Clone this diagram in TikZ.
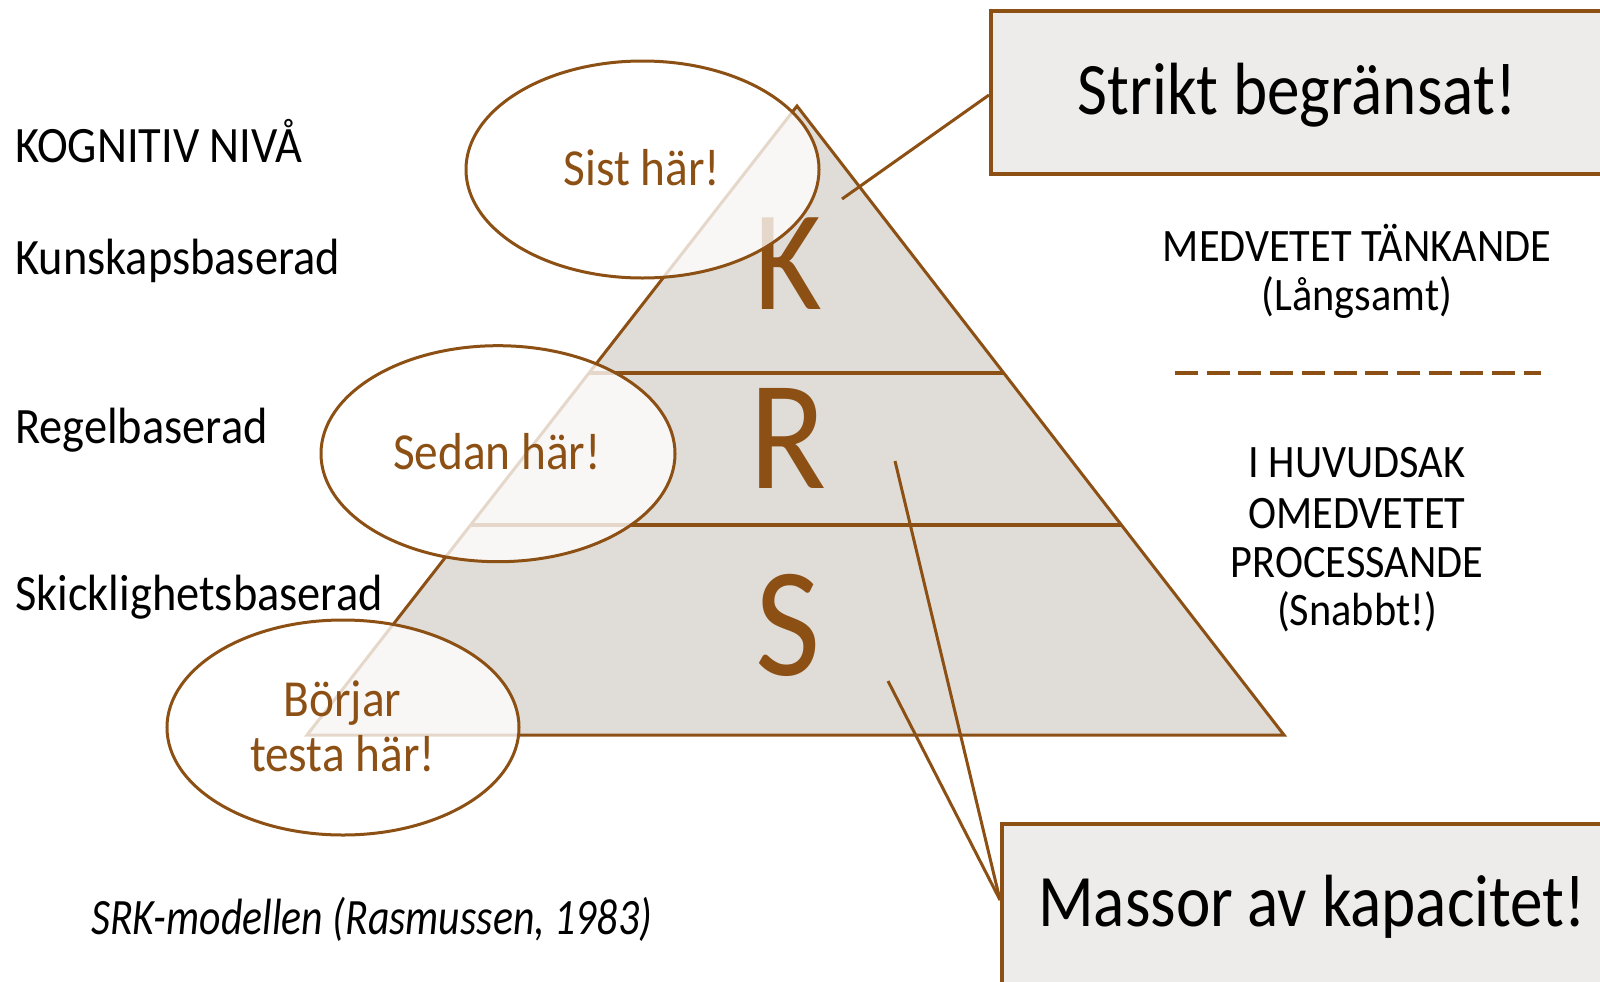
\documentclass[tikz,border=0pt]{standalone}
\usepackage{fontspec}
\setmainfont{Carlito}[FakeStretch=0.91]
\newfontfamily\boxfont{Carlito}[FakeStretch=0.88]
\newfontfamily\capfont{Carlito}[FakeStretch=0.82]
\usetikzlibrary{calc,shapes.geometric}
\definecolor{brn}{RGB}{140,80,20}
\definecolor{pyr}{RGB}{224,221,216}
\definecolor{boxfill}{RGB}{238,236,234}
\begin{document}
\begin{tikzpicture}[x=1bp,y=-1bp,
  lbl/.style={inner sep=0pt, anchor=base west, font=\fontsize{51bp}{60bp}\selectfont},
  rtxt/.style={inner sep=0pt, anchor=base, font=\fontsize{46.5bp}{50bp}\selectfont},
  etxt/.style={inner sep=0pt, anchor=base, text=brn, font=\fontsize{52bp}{60bp}\selectfont},
  bigletter/.style={inner sep=0pt, anchor=base, text=brn},
  bubble/.style={ellipse, draw=brn, line width=3bp, fill=white, fill opacity=0.78, inner sep=0pt},
  callout/.style={rectangle, draw=brn, line width=4bp, fill=boxfill, inner sep=0pt, anchor=north west},
  btxt/.style={inner sep=0pt, font=\boxfont\fontsize{74bp}{80bp}\selectfont},
  conn/.style={draw=brn, line width=3bp},
  level/.style={draw=brn, line width=3.5bp}]
\useasboundingbox (0,0) rectangle (1600,981);
\clip (0,0) rectangle (1600,981);
\fill[white] (0,0) rectangle (1600,981);

% pyramid
\coordinate (apex) at (797,106);
\coordinate (bl) at (307,735);
\coordinate (br) at (1284,735);
\path[fill=pyr, draw=brn, line width=3bp] (apex) -- (br) -- (bl) -- cycle;
\coordinate (l1a) at (589,373);
\coordinate (l1b) at (1004,373);
\coordinate (l2a) at (470.6,525);
\coordinate (l2b) at (1121.4,525);
\draw[level] (l1a) -- (l1b);
\draw[level] (l2a) -- (l2b);

\node[bigletter, font=\fontsize{143bp}{150bp}\selectfont] (K) at (788,309) {K};
\node[bigletter, font=\fontsize{156bp}{160bp}\selectfont] (R) at (788,488) {R};
\node[bigletter, font=\fontsize{156bp}{160bp}\selectfont] (S) at (788,675) {S};

% callout boxes and connectors
\node[callout, minimum width=660bp, minimum height=163bp] (box1) at (989,9) {};
\node[btxt, anchor=base] (t1) at (1297,114) {Strikt begränsat!};
\node[callout, minimum width=660bp, minimum height=200bp] (box2) at (1000,822) {};
\node[btxt, anchor=base west] (t2) at (1038,926) {Massor av kapacitet!};
\coordinate (k1) at (842,199);
\coordinate (r1) at (895,461);
\coordinate (s1) at (888,681);
\coordinate (b1) at ($(box1.north west)+(0,86)$);
\coordinate (b2) at ($(box2.north west)+(0,78)$);
\draw[conn] (b1) -- (k1);
\draw[conn] (b2) -- (r1);
\draw[conn] (b2) -- (s1);

% bubbles
\node[bubble, minimum width=353bp, minimum height=217bp] (e1) at (642.5,169.5) {};
\node[bubble, minimum width=354bp, minimum height=216bp] (e2) at (498,453.7) {};
\node[bubble, minimum width=352bp, minimum height=215bp] (e3) at (343,727.5) {};
\node[etxt] (e1t) at (642,185) {Sist här!};
\node[etxt] (e2t) at (497,469) {Sedan här!};
\node[etxt] (e3t) at (342.5,716.7) {Börjar};
\node[etxt] (e3u) at (342.5,771.7) {testa här!};

% left labels
\node[lbl] (kn) at (15,162.7) {KOGNITIV NIVÅ};
\node[lbl] (kb) at (15,274) {Kunskapsbaserad};
\node[lbl] (rb) at (15,443) {Regelbaserad};
\node[lbl] (sb) at (15,610) {Skicklighetsbaserad};
\node[lbl, font=\capfont\fontsize{51bp}{60bp}\selectfont\itshape] (cap) at (91,934) {SRK-modellen (Rasmussen, 1983)};

% right texts
\node[rtxt] (m1) at (1357,261) {MEDVETET TÄNKANDE};
\node[rtxt] (m2) at (1357,310) {(Långsamt)};
\coordinate (da) at (1175,373);
\coordinate (db) at (1541,373);
\draw[draw=brn, line width=4bp, dash pattern=on 23bp off 8.7bp] (da) -- (db);
\node[rtxt] (o1) at (1357,477) {I HUVUDSAK};
\node[rtxt] (o2) at (1357,528) {OMEDVETET};
\node[rtxt] (o3) at (1357,577) {PROCESSANDE};
\node[rtxt] (o4) at (1357,625) {(Snabbt!)};
\end{tikzpicture}
\end{document}
